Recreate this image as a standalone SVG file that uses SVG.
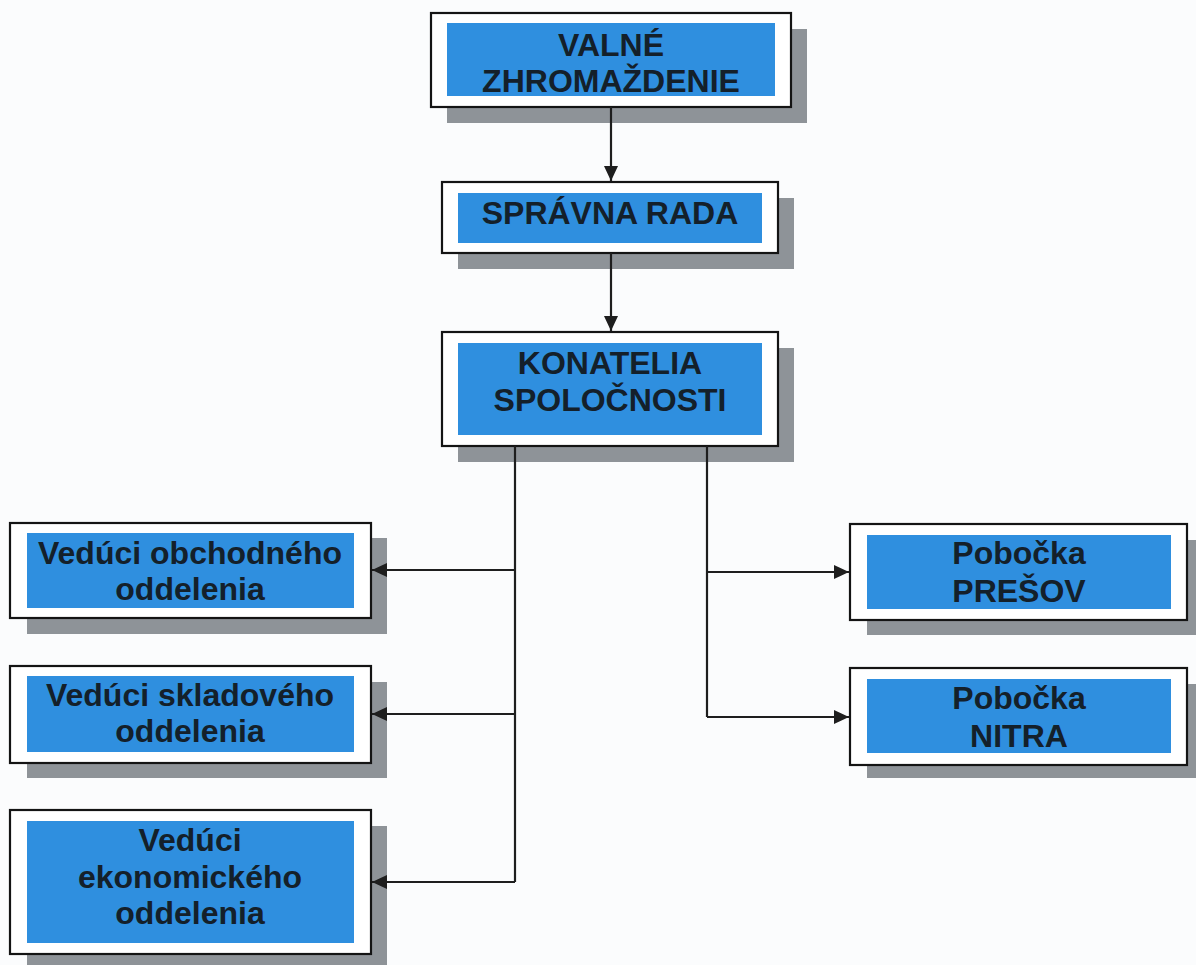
<svg xmlns="http://www.w3.org/2000/svg" width="1196" height="965" viewBox="0 0 1196 965">
<style>
.bg{fill:#fbfcfd}
.sh{fill:#8e9398}
.box{fill:#ffffff;stroke:#141414;stroke-width:2.2}
.blue{fill:#2f8fdf}
.t{font-family:"Liberation Sans",Arial,sans-serif;font-weight:bold;font-size:32px;fill:#14202a;text-anchor:middle}
.c{stroke:#1e1e1e;stroke-width:2.2;fill:none}
</style>
<defs>
<marker id="ah" markerUnits="userSpaceOnUse" markerWidth="16" markerHeight="14" refX="15" refY="7" orient="auto">
<path d="M0,0 L15,7 L0,14 Z" fill="#1e1e1e"/>
</marker>
</defs>
<rect class="bg" x="0" y="0" width="1196" height="965"/>

<g id="n-valne">
<rect class="sh" x="447" y="29" width="360" height="94"/>
<rect class="box" x="431" y="13" width="360" height="94"/>
<rect class="blue" x="447" y="23" width="328" height="73"/>
<text class="t" x="611" y="56">VALNÉ</text>
<text class="t" x="611" y="92">ZHROMAŽDENIE</text>
</g>

<g id="n-spravna">
<rect class="sh" x="458" y="198" width="336" height="71"/>
<rect class="box" x="442" y="182" width="336" height="71"/>
<rect class="blue" x="458" y="193" width="304" height="50"/>
<text class="t" x="610" y="224">SPRÁVNA RADA</text>
</g>

<g id="n-konatelia">
<rect class="sh" x="458" y="348" width="336" height="114"/>
<rect class="box" x="442" y="332" width="336" height="114"/>
<rect class="blue" x="458" y="343" width="304" height="92"/>
<text class="t" x="610" y="374">KONATELIA</text>
<text class="t" x="610" y="411">SPOLOČNOSTI</text>
</g>

<g id="n-obchod">
<rect class="sh" x="27" y="538" width="360" height="96"/>
<rect class="box" x="10" y="523" width="361" height="95"/>
<rect class="blue" x="27" y="533" width="327" height="75"/>
<text class="t" x="190" y="564">Vedúci obchodného</text>
<text class="t" x="190" y="600">oddelenia</text>
</g>

<g id="n-sklad">
<rect class="sh" x="27" y="682" width="360" height="96"/>
<rect class="box" x="10" y="666" width="361" height="97"/>
<rect class="blue" x="27" y="676" width="327" height="76"/>
<text class="t" x="190" y="706">Vedúci skladového</text>
<text class="t" x="190" y="742">oddelenia</text>
</g>

<g id="n-ekonom">
<rect class="sh" x="27" y="826" width="360" height="144"/>
<rect class="box" x="10" y="810" width="361" height="144"/>
<rect class="blue" x="27" y="821" width="327" height="122"/>
<text class="t" x="190" y="851">Vedúci</text>
<text class="t" x="190" y="888">ekonomického</text>
<text class="t" x="190" y="924">oddelenia</text>
</g>

<g id="n-presov">
<rect class="sh" x="867" y="540" width="337" height="95"/>
<rect class="box" x="850" y="524" width="337" height="96"/>
<rect class="blue" x="867" y="535" width="304" height="74"/>
<text class="t" x="1019" y="564">Pobočka</text>
<text class="t" x="1019" y="602">PREŠOV</text>
</g>

<g id="n-nitra">
<rect class="sh" x="867" y="684" width="337" height="94"/>
<rect class="box" x="850" y="668" width="337" height="97"/>
<rect class="blue" x="867" y="679" width="304" height="74"/>
<text class="t" x="1019" y="709">Pobočka</text>
<text class="t" x="1019" y="747">NITRA</text>
</g>

<g id="connectors">
<line class="c" x1="611" y1="107" x2="611" y2="181" marker-end="url(#ah)"/>
<line class="c" x1="611" y1="253" x2="611" y2="331" marker-end="url(#ah)"/>
<polyline class="c" points="515,446 515,882"/>
<line class="c" x1="515" y1="570" x2="372" y2="570" marker-end="url(#ah)"/>
<line class="c" x1="515" y1="714" x2="372" y2="714" marker-end="url(#ah)"/>
<line class="c" x1="515" y1="882" x2="372" y2="882" marker-end="url(#ah)"/>
<polyline class="c" points="707,446 707,717"/>
<line class="c" x1="707" y1="572" x2="849" y2="572" marker-end="url(#ah)"/>
<line class="c" x1="707" y1="717" x2="849" y2="717" marker-end="url(#ah)"/>
</g>
</svg>
